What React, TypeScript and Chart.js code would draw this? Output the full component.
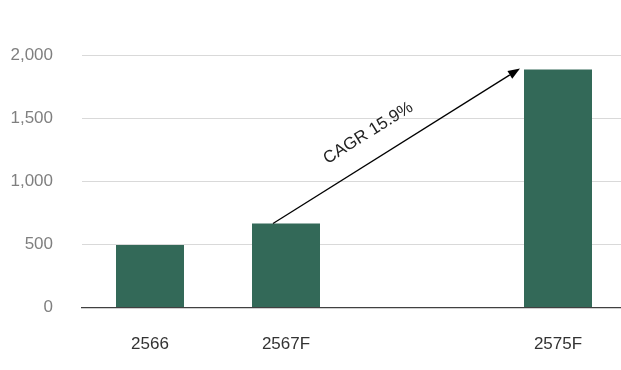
import React, { useEffect, useRef } from "react";
import { Chart, registerables } from "chart.js";

Chart.register(...registerables);

const categories = ["2566", "2567F", "", "2575F"];
const values = [495, 665, null, 1885];
const yTicks = [0, 500, 1000, 1500, 2000];
const cagrLabel = "CAGR 15.9%";

const BAR_COLOR = "#336958";
const FONT = "'Liberation Sans', Arial, sans-serif";

const arrowPlugin = {
  id: "cagrArrow",
  afterDatasetsDraw(chart: any) {
    const meta = chart.getDatasetMeta(0);
    const a = meta.data[1];
    const b = meta.data[3];
    if (!a || !b) return;
    const ctx = chart.ctx;
    const x1 = a.x - 13;
    const y1 = a.y;
    const x2 = b.x - b.width / 2 - 4;
    const y2 = b.y - 1;
    const ang = Math.atan2(y2 - y1, x2 - x1);
    const head = 12;
    const hw = 4.5;
    ctx.save();
    ctx.strokeStyle = "#000";
    ctx.fillStyle = "#000";
    ctx.lineWidth = 1.3;
    const ex = x2 - head * Math.cos(ang);
    const ey = y2 - head * Math.sin(ang);
    ctx.beginPath();
    ctx.moveTo(x1, y1);
    ctx.lineTo(ex, ey);
    ctx.stroke();
    ctx.beginPath();
    ctx.moveTo(x2, y2);
    ctx.lineTo(ex + hw * Math.sin(ang), ey - hw * Math.cos(ang));
    ctx.lineTo(ex - hw * Math.sin(ang), ey + hw * Math.cos(ang));
    ctx.closePath();
    ctx.fill();
    // label
    const mx = (x1 + x2) / 2;
    const my = (y1 + y2) / 2;
    const dx = Math.cos(ang);
    const dy = Math.sin(ang);
    const px = dy;
    const py = -dx;
    const tx = mx - 17 * dx + 26 * px;
    const ty = my - 17 * dy + 26 * py;
    ctx.translate(tx, ty);
    ctx.rotate(ang);
    ctx.font = `17px ${FONT}`;
    ctx.fillStyle = "#222";
    ctx.textAlign = "center";
    ctx.textBaseline = "middle";
    ctx.fillText(cagrLabel, 0, 0);
    ctx.restore();
  },
};

export default function App() {
  const ref = useRef<HTMLCanvasElement | null>(null);
  useEffect(() => {
    if (!ref.current) return;
    const chart = new Chart(ref.current, {
      type: "bar",
      data: {
        labels: categories,
        datasets: [
          {
            data: values as any,
            backgroundColor: BAR_COLOR,
            borderWidth: 0,
            categoryPercentage: 1,
            barPercentage: 0.5,
          },
        ],
      },
      options: {
        responsive: false,
        animation: false,
        layout: { padding: { top: 55, right: 0, bottom: 0, left: 0 } },
        plugins: {
          legend: { display: false },
          tooltip: { enabled: false },
        },
        scales: {
          x: {
            grid: { display: false, drawTicks: false },
            border: { display: true, color: "#404040", width: 1.3 },
            afterFit: (s: any) => {
              s.height = 62.5;
            },
            ticks: {
              color: "#333",
              font: { family: FONT, size: 17 },
              padding: 27,
              maxRotation: 0,
            },
          },
          y: {
            min: 0,
            max: 2000,
            afterBuildTicks: (s: any) => {
              s.ticks = yTicks.map((v) => ({ value: v }));
            },
            afterFit: (s: any) => {
              s.width = 82;
            },
            grid: { color: "#d9d9d9", drawTicks: false, lineWidth: 1 },
            border: { display: false },
            ticks: {
              color: "#7f7f7f",
              font: { family: FONT, size: 17 },
              padding: 29,
              callback: (v: any) => Number(v).toLocaleString("en-US"),
            },
          },
        },
      },
      plugins: [arrowPlugin],
    });
    return () => chart.destroy();
  }, []);
  return (
    <div
      style={{
        position: "fixed",
        left: 0,
        top: 0,
        width: 621,
        height: 370,
        overflow: "hidden",
        background: "#fff",
      }}
    >
      <canvas ref={ref} width={626} height={370} style={{ display: "block" }} />
    </div>
  );
}
